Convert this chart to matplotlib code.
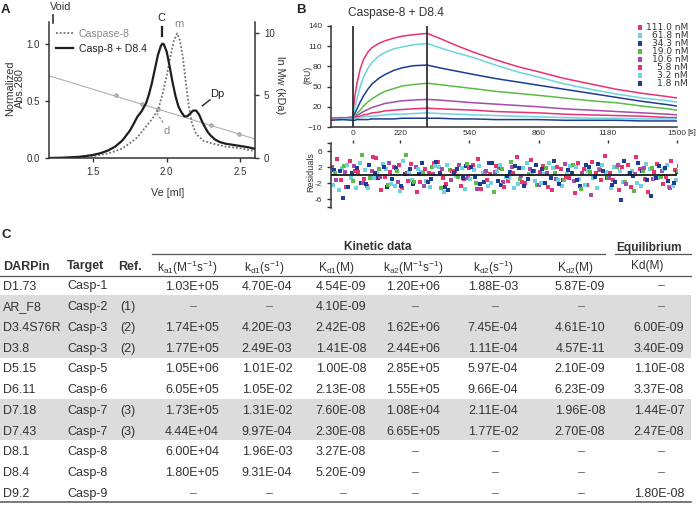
import numpy as np
import matplotlib
matplotlib.use('Agg')
import matplotlib.pyplot as plt
from matplotlib.patches import Rectangle

plt.rcParams['font.family'] = ['Liberation Sans', 'DejaVu Sans']
plt.rcParams['mathtext.fontset'] = 'custom'
plt.rcParams['mathtext.rm'] = 'Liberation Sans'
plt.rcParams['mathtext.it'] = 'Liberation Sans:italic'
plt.rcParams['mathtext.bf'] = 'Liberation Sans:bold'
plt.rcParams['mathtext.default'] = 'rm'

# ---------------- panel A data (SEC) ----------------
ve_complex = [1.20, 1.30, 1.40, 1.45, 1.50, 1.55, 1.60, 1.65, 1.70, 1.75, 1.78, 1.80, 1.83, 1.86,
              1.88, 1.90, 1.92, 1.94, 1.96, 1.97, 1.98, 2.00, 2.02, 2.04, 2.06, 2.08, 2.10, 2.12,
              2.14, 2.16, 2.18, 2.20, 2.22, 2.24, 2.26, 2.28, 2.30, 2.33, 2.36, 2.40, 2.45, 2.50,
              2.55, 2.60]
abs_complex = [0.0, 0.003, 0.01, 0.017, 0.027, 0.042, 0.065, 0.10, 0.155, 0.24, 0.31, 0.36, 0.41, 0.48,
               0.56, 0.66, 0.78, 0.90, 0.98, 1.0, 0.995, 0.93, 0.80, 0.66, 0.54, 0.45, 0.40, 0.365,
               0.365, 0.39, 0.415, 0.415, 0.38, 0.32, 0.27, 0.225, 0.195, 0.16, 0.14, 0.125, 0.115, 0.105,
               0.095, 0.08]
ve_casp8 = [1.20, 1.30, 1.40, 1.50, 1.60, 1.65, 1.70, 1.75, 1.80, 1.85, 1.90, 1.94, 1.97, 2.00,
            2.03, 2.05, 2.07, 2.09, 2.11, 2.13, 2.15, 2.17, 2.20, 2.25, 2.30, 2.40, 2.50, 2.60]
abs_casp8 = [0.0, 0.002, 0.006, 0.015, 0.04, 0.06, 0.085, 0.13, 0.18, 0.26, 0.34, 0.42, 0.55, 0.72,
             0.92, 1.03, 1.09, 1.03, 0.88, 0.66, 0.46, 0.31, 0.21, 0.15, 0.13, 0.10, 0.085, 0.06]
cal_ve = [1.652, 1.83, 1.94, 2.30, 2.49]
cal_lnmw = [5.0, 4.32, 3.9, 2.64, 1.92]
cal_fit_ve = [1.2, 2.6]
cal_fit_lnmw = [6.56, 1.52]

# ---------------- panel B data (SPR) ----------------
t_sens = [-100, -50, 0, 10, 20, 35, 50, 70, 90, 120, 150, 190, 230, 280, 345,
          400, 480, 560, 660, 760, 860, 980, 1100, 1220, 1340, 1460, 1500]
conc_labels = ['111.0 nM', '61.8 nM', '34.3 nM', '19.0 nM', '10.6 nM', '5.8 nM', '3.2 nM', '1.8 nM']
conc_colors = ['#e8336e', '#6dd3de', '#1d3c96', '#5bbb46', '#a54ba9', '#e8336e', '#6dd3de', '#1d3c96']
ru_111 = [2, 3, 5, 35, 55, 76, 90, 101, 108, 114, 118, 122, 125, 127, 129, 122, 111, 101, 90, 80, 72, 62, 54, 46, 40, 35, 33]
ru_61 = [2, 1, 4, 18, 32, 50, 64, 77, 86, 95, 101, 106, 109, 112, 114, 108, 100, 93, 82, 72, 64, 54, 46, 39, 33, 29, 27]
ru_34 = [1, 2, 3, 10, 17, 27, 36, 46, 54, 62, 68, 74, 78, 81, 82, 78, 73, 68, 62, 57, 52, 46, 40, 34, 28, 23, 21]
ru_19 = [2, 3, 3, 6, 10, 15, 21, 27, 32, 38, 43, 47, 51, 53, 55, 53, 50, 47, 43, 40, 37, 33, 29, 26, 21, 17, 15]
ru_10 = [3, 4, 3, 5, 7, 10, 13, 16, 19, 22, 25, 27, 29, 30, 31, 30, 28, 26, 24, 22, 20, 17, 15, 13, 11, 9, 8]
ru_5 = [3, 2, 3, 4, 5, 6, 8, 9, 11, 12, 14, 15, 16, 17, 18, 17, 16, 15, 13, 12, 11, 9, 8, 7, 6, 4, 4]
ru_3 = [1, 2, 2, 3, 3, 4, 5, 6, 6, 7, 8, 9, 9, 10, 11, 10, 9, 8, 7, 6, 5, 4, 3, 3, 2, 2, 2]
ru_1 = [0, 1, 0, 0, 1, 1, 1, 1, 2, 2, 2, 2, 3, 3, 3, 3, 2, 2, 1, 1, 1, 0, 0, 0, -1, -1, -1]
sensorgrams = [ru_111, ru_61, ru_34, ru_19, ru_10, ru_5, ru_3, ru_1]

res_111 = [2.1, -1.3, 3.5, 0.8, -2.6, 4.2, -0.5, 1.9, -3.1, 2.7, -1.8, 0.6, 3.3, -2.2, 1.1, -0.9, 2.5, -3.4, 0.3, 1.8,
           -1.5, 4.6, -2.0, 0.9, 2.2, -3.6, 1.4, -0.7, 3.1, -2.5, 0.5, 4.8, -1.2, 2.0, -3.0, 1.6, -4.1, 2.8, -0.4, 1.3]
res_61 = [-2.4, 1.7, -0.6, 2.9, -3.3, 0.4, 1.5, -2.7, 3.6, -1.1, 0.8, -2.9, 1.9, 2.4, -0.3, -3.5, 1.2, 0.6, -1.9, 2.6,
          -0.8, -2.3, 3.0, -1.4, 0.2, 1.8, -2.6, 2.3, -0.9, 1.0, -3.2, 0.7, 2.1, -1.7, 0.9, -2.8, 1.5, -0.6, 2.4, -1.3]
res_34 = [1.2, -5.8, 0.5, -1.9, 2.6, -0.7, -3.0, 1.8, 0.3, -2.2, 2.9, -1.0, 0.6, -3.7, 1.4, 2.3, -0.5, -1.6, 3.1, -2.4,
          0.8, 1.7, -0.9, 2.5, -2.0, 3.4, -1.2, 0.4, -2.7, 1.9, 2.8, -0.6, -1.8, 3.6, -0.3, 1.1, -5.2, 2.2, -1.5, 0.7]
res_19 = [0.6, 2.3, -1.5, 4.9, -0.8, 1.6, -2.5, 0.9, 5.1, -1.7, 0.4, 2.0, -3.1, 1.3, -0.5, 2.7, -1.9, 0.7, -4.2, 1.5,
          3.2, -0.9, 0.3, -2.4, 1.8, 0.5, -1.1, 2.6, -3.5, 0.8, 1.4, -0.7, 2.1, -1.6, -4.0, 0.9, 1.7, -0.4, -2.9, 1.0]
res_10 = [-1.1, 0.8, 2.2, -2.0, 1.0, -0.4, 3.0, -1.6, 0.5, 1.9, -2.8, 0.2, 1.4, -1.2, 2.5, -0.6, -3.4, 1.1, 0.7, -1.8,
          2.0, -0.3, 1.6, -2.5, 0.4, -0.9, 2.8, -1.5, 0.6, -5.0, 1.3, -0.8, 2.4, -2.1, 0.3, 1.7, -1.0, 0.9, -3.3, 2.2]
res_5 = [3.9, -2.9, 1.1, -0.9, 4.5, -3.6, 0.7, 2.4, -1.4, -4.3, 1.6, 3.0, -0.8, 0.9, -2.6, 1.7, 4.0, -1.1, 2.3, -3.0,
         0.4, -1.8, 3.7, 0.8, -2.9, 2.0, -0.5, -4.4, 1.5, 3.2, -1.3, 0.6, -3.8, 2.4, 4.5, -0.9, 0.8, -2.2, 3.5, -4.0]
res_3 = [-3.8, 2.4, -3.2, 1.3, -0.7, 2.8, -2.1, -3.9, 0.8, 1.6, -1.4, 2.2, -4.1, 0.5, 1.8, -0.9, 2.3, -2.7, 1.0, -0.4,
         -3.1, 1.7, 0.6, -2.0, 2.9, -1.2, 0.3, 1.9, -2.4, -0.6, 2.6, -3.3, 1.1, 0.4, -1.9, 2.7, -0.8, 1.5, -2.6, 0.9]
res_1 = [0.9, -3.0, 1.8, -2.3, 0.4, 2.0, -1.0, -2.6, 1.5, 0.2, -1.7, 3.3, -2.9, 0.6, -0.8, 1.9, -2.1, 3.0, -1.4, -0.2,
         2.2, -2.8, 0.9, 1.6, -0.6, -2.2, 1.3, -1.1, 2.5, -0.4, 1.0, -2.4, -6.2, 0.5, 2.9, -1.3, -0.6, 1.8, -2.0, 0.7]
residuals = [res_111, res_61, res_34, res_19, res_10, res_5, res_3, res_1]

# ---------------- panel C data (table) ----------------
darpin = ['D1.73', 'AR_F8', 'D3.4S76R', 'D3.8', 'D5.15', 'D6.11', 'D7.18', 'D7.43', 'D8.1', 'D8.4', 'D9.2']
target = ['Casp-1', 'Casp-2', 'Casp-3', 'Casp-3', 'Casp-5', 'Casp-6', 'Casp-7', 'Casp-7', 'Casp-8', 'Casp-8', 'Casp-9']
ref = ['', '(1)', '(2)', '(2)', '', '', '(3)', '(3)', '', '', '']
ka1 = ['1.03E+05', '–', '1.74E+05', '1.77E+05', '1.05E+06', '6.05E+05', '1.73E+05', '4.44E+04', '6.00E+04', '1.80E+05', '–']
kd1 = ['4.70E-04', '–', '4.20E-03', '2.49E-03', '1.01E-02', '1.05E-02', '1.31E-02', '9.97E-04', '1.96E-03', '9.31E-04', '–']
Kd1 = ['4.54E-09', '4.10E-09', '2.42E-08', '1.41E-08', '1.00E-08', '2.13E-08', '7.60E-08', '2.30E-08', '3.27E-08', '5.20E-09', '–']
ka2 = ['1.20E+06', '–', '1.62E+06', '2.44E+06', '2.85E+05', '1.55E+05', '1.08E+04', '6.65E+05', '–', '–', '–']
kd2 = ['1.88E-03', '–', '7.45E-04', '1.11E-04', '5.97E-04', '9.66E-04', '2.11E-04', '1.77E-02', '–', '–', '–']
Kd2 = ['5.87E-09', '–', '4.61E-10', '4.57E-11', '2.10E-09', '6.23E-09', '1.96E-08', '2.70E-08', '–', '–', '–']
Kd_eq = ['–', '–', '6.00E-09', '3.40E-09', '1.10E-08', '3.37E-08', '1.44E-07', '2.47E-08', '–', '–', '1.80E-08']
shaded_rows = [1, 2, 3, 6, 7]
kin_headers = ['k$_{a1}$(M$^{-1}$s$^{-1}$)', 'k$_{d1}$(s$^{-1}$)', 'K$_{d1}$(M)',
               'k$_{a2}$(M$^{-1}$s$^{-1}$)', 'k$_{d2}$(s$^{-1}$)', 'K$_{d2}$(M)', 'Kd(M)']

W, H = 698, 517
DARK = '#333333'


def fig_rect(x0, y0, x1, y1):
    # pixel box (top-left origin) -> figure fraction rect
    return [x0 / W, 1 - y1 / H, (x1 - x0) / W, (y1 - y0) / H]


def style_axis(ax):
    for s in ax.spines.values():
        s.set_color(DARK)
        s.set_linewidth(1.1)
    ax.tick_params(colors=DARK, width=1.0, length=3)


def main():
    fig = plt.figure(figsize=(W / 100, H / 100), dpi=100)

    # ---------- A ----------
    axA = fig.add_axes(fig_rect(49, 22, 255, 158))
    ax2 = axA.twinx()
    axA.set_zorder(ax2.get_zorder() + 1)
    axA.patch.set_visible(False)

    ax2.plot(cal_fit_ve, cal_fit_lnmw, color='#b0b0b0', lw=0.8)
    ax2.plot(cal_ve, cal_lnmw, 'o', ms=2.6, mfc='#b8b8b8', mec='#999999', mew=0.5)
    axA.plot(ve_casp8, abs_casp8, color='#707070', lw=1.3, ls=(0, (1, 1.1)), label='Caspase-8')
    axA.plot(ve_complex, abs_complex, color='#1e1e1e', lw=1.6, label='Casp-8 + D8.4')

    axA.set_xlim(1.2, 2.6)
    axA.set_ylim(0, 1.19)
    ax2.set_ylim(0, 10.85)
    axA.set_xticks([1.5, 2.0, 2.5])
    axA.set_yticks([0.0, 0.5, 1.0])
    axA.set_yticklabels(['0.0', '0.5', '1.0'])
    ax2.set_yticks([0, 5, 10])
    for ax in (axA, ax2):
        style_axis(ax)
        ax.spines['top'].set_visible(False)
        ax.tick_params(labelsize=7)
    axA.spines['right'].set_visible(False)
    ax2.spines['left'].set_visible(False)
    ax2.spines['bottom'].set_visible(False)

    axA.set_xlabel('Ve [ml]', fontsize=7.8, color=DARK)
    axA.xaxis.set_label_coords(0.575, -0.22)
    axA.set_ylabel('Normalized\nAbs.280', fontsize=7.8, color=DARK, linespacing=1.0)
    axA.yaxis.set_label_coords(-0.115, 0.515)
    ax2.set_ylabel('ln Mw (kDa)', fontsize=7.8, color=DARK, rotation=270, va='center')
    ax2.yaxis.set_label_coords(1.12, 0.537)

    leg = axA.legend(loc='upper left', bbox_to_anchor=(0.0, 1.0), frameon=False, fontsize=7.6,
                     handlelength=1.6, handletextpad=0.55, labelspacing=0.5, borderaxespad=0.25)
    leg.get_texts()[0].set_color('#8a8a8a')
    leg.get_texts()[1].set_color('#222222')

    # peak annotations
    axA.plot([1.227, 1.227], [1.18, 1.254], color=DARK, lw=1.2, clip_on=False)
    axA.text(1.282, 1.325, 'Void', ha='center', va='center', fontsize=7.8, color=DARK)
    axA.plot([1.967, 1.967], [1.07, 1.15], color='#222', lw=1.6, clip_on=False)
    axA.text(1.967, 1.225, 'C', ha='center', va='center', fontsize=8, color='#222')
    axA.text(2.084, 1.17, 'm', ha='center', va='center', fontsize=8, color='#8a8a8a')
    axA.plot([2.242, 2.294], [0.456, 0.509], color='#222', lw=1.0)
    axA.text(2.344, 0.56, 'Dp', ha='center', va='center', fontsize=8, color='#222')
    axA.plot([1.933, 1.979], [0.392, 0.304], color='#8a8a8a', lw=0.9, ls=(0, (2, 1.5)))
    axA.text(1.999, 0.24, 'd', ha='center', va='center', fontsize=8, color='#8a8a8a')

    # ---------- B ----------
    axB = fig.add_axes(fig_rect(331, 26, 677, 127))
    for vals, c in zip(sensorgrams, conc_colors):
        axB.plot(t_sens, vals, color=c, lw=1.1)
    axB.axvline(0, color='#222', lw=1.2)
    axB.axvline(345, color='#222', lw=1.2)
    axB.set_xlim(-100, 1500)
    axB.set_ylim(-10, 140)
    axB.set_yticks([-10, 20, 50, 80, 110, 140])
    axB.set_xticks([0, 220, 540, 860, 1180, 1500])
    style_axis(axB)
    axB.spines['top'].set_visible(False)
    axB.spines['right'].set_visible(False)
    axB.tick_params(labelsize=6)
    axB.tick_params(axis='x', length=0, pad=2.5)
    axB.set_ylabel('(RU)', fontsize=6.2, color=DARK)
    axB.yaxis.set_label_coords(-0.053, 0.515)

    axR = fig.add_axes(fig_rect(331, 143, 677, 208))
    for i, (r, c) in enumerate(zip(residuals, conc_colors)):
        tr = np.linspace(-95, 1490, len(r)) + 5 * i
        axR.scatter(tr, r, s=8, marker='s', color=c, linewidths=0, zorder=2)
    axR.axhline(0, color='#1a1a1a', lw=1.3, zorder=3)
    axR.set_xlim(-100, 1500)
    axR.set_ylim(-8.2, 8)
    axR.set_yticks([-8, -6, -2, 2, 6, 8])
    axR.set_yticklabels(['', '-6', '-2', '2', '6', ''])
    style_axis(axR)
    for s in ('top', 'right', 'bottom'):
        axR.spines[s].set_visible(False)
    axR.xaxis.tick_top()
    axR.set_xticks([0, 220, 540, 860, 1180, 1500])
    axR.tick_params(axis='x', length=2.5, labeltop=False)
    axR.tick_params(labelsize=6)
    axR.set_ylabel('Residuals', fontsize=6.5, color=DARK)
    axR.yaxis.set_label_coords(-0.046, 0.55)

    # ---------- overlay in pixel coordinates ----------
    axT = fig.add_axes([0, 0, 1, 1])
    axT.set_xlim(0, W)
    axT.set_ylim(H, 0)
    axT.axis('off')

    axT.text(1, 10, 'A', fontsize=9.5, weight='bold', va='center', ha='left', color='#222')
    axT.text(296, 10, 'B', fontsize=9.5, weight='bold', va='center', ha='left', color='#222')
    axT.text(1, 235, 'C', fontsize=9.5, weight='bold', va='center', ha='left', color='#222')
    axT.text(348, 13, 'Caspase-8 + D8.4', fontsize=8.6, va='center', ha='left', color=DARK)
    axT.text(687, 133, '[s]', fontsize=6, va='center', ha='left', color=DARK)

    for i, (lab, c) in enumerate(zip(conc_labels, conc_colors)):
        yy = 27.3 + 8.0 * i
        axT.add_patch(Rectangle((637.5, yy - 2.3), 4.6, 4.6, color=c, lw=0))
        axT.text(688, yy, lab, fontsize=6.5, family='DejaVu Sans', ha='right', va='center', color=DARK)

    # ---------- C table ----------
    row_y0, row_dy = 285, 20.73
    for i in shaded_rows:
        yc = row_y0 + row_dy * i
        axT.add_patch(Rectangle((0, yc - row_dy / 2), 691, row_dy, color='#dcdcdc', lw=0, zorder=0))

    axT.plot([152, 605], [254, 254], color='#555', lw=0.9)
    axT.plot([615, 691], [254, 254], color='#555', lw=0.9)
    axT.plot([0, 691], [276, 276], color='#555', lw=0.9)
    axT.plot([0, 691], [502, 502], color='#555', lw=1.1)
    tkw = dict(va='center_baseline', color=DARK)
    axT.text(378, 246, 'Kinetic data', fontsize=8.6, weight='bold', ha='center', **tkw)
    axT.text(649, 246, 'Equilibrium', fontsize=8.6, weight='bold', ha='center', **tkw)

    hy = 265
    axT.text(3, hy, 'DARPin', fontsize=9, weight='bold', ha='left', **tkw)
    axT.text(67, hy, 'Target', fontsize=9, weight='bold', ha='left', **tkw)
    axT.text(118, hy, 'Ref.', fontsize=9, weight='bold', ha='left', **tkw)
    head_x = [187, 264, 336, 413, 493, 575, 647]
    for hx, h in zip(head_x, kin_headers):
        axT.text(hx, hy, h, fontsize=8.6, ha='center', **tkw)

    val_x = [192, 267, 341, 413, 493, 580, 659]
    cols = [ka1, kd1, Kd1, ka2, kd2, Kd2, Kd_eq]
    for i in range(len(darpin)):
        yc = row_y0 + row_dy * i
        axT.text(3, yc, darpin[i], fontsize=9, ha='left', **tkw)
        axT.text(67, yc, target[i], fontsize=9, ha='left', **tkw)
        axT.text(120, yc, ref[i], fontsize=9, ha='left', **tkw)
        for vx, col in zip(val_x, cols):
            v = col[i]
            if v == '–':
                axT.text(vx + 2, yc, v, fontsize=9, ha='center', va='center_baseline', color='#666')
            else:
                axT.text(vx, yc, v, fontsize=9, ha='center', **tkw)

    fig.savefig('out.png', dpi=100)


if __name__ == "__main__":
    main()
